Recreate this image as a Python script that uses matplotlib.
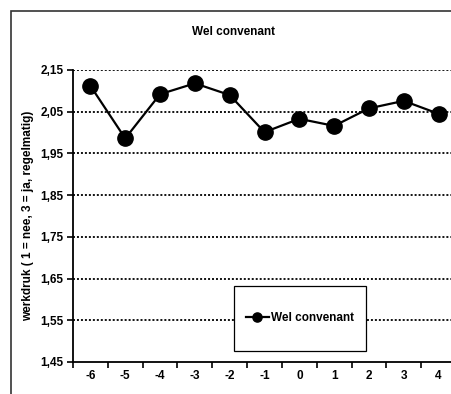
import matplotlib.pyplot as plt
from matplotlib.patches import Rectangle
from matplotlib.ticker import FixedLocator, NullFormatter

plt.rcParams['font.family'] = ['Liberation Sans', 'DejaVu Sans']
plt.rcParams['font.weight'] = 'bold'

jaren = [-6, -5, -4, -3, -2, -1, 0, 1, 2, 3, 4]
werkdruk = [2.112, 1.986, 2.092, 2.118, 2.090, 2.001, 2.033, 2.016, 2.058, 2.076, 2.045]
yticks = [1.45, 1.55, 1.65, 1.75, 1.85, 1.95, 2.05, 2.15]

fig = plt.figure(figsize=(4.51, 3.94), dpi=100)
# outer chart frame (runs off the right and bottom edge)
fig.patches.append(Rectangle((11/451, -0.2), 1.0, (394-11)/394 + 0.2, transform=fig.transFigure,
                             fill=False, edgecolor='#333333', linewidth=1.2))

ax = fig.add_axes([73/451, 32/394, (456-73)/451, (362-70)/394])
ax.plot(jaren, werkdruk, color='black', linewidth=1.6, marker='o', markersize=11,
        label='Wel convenant', clip_on=False, zorder=3)

ax.set_xlim(-6.5, 4.5)
ax.set_ylim(1.45, 2.15)
ax.set_yticks(yticks)
ax.set_yticklabels([('%.2f' % v).replace('.', ',') for v in yticks], fontsize=8.5, fontweight='bold')
for v in yticks[1:]:
    ax.axhline(v, color='black', linestyle=(0, (1.1, 1.1)), linewidth=1.3, zorder=1)

ax.set_xticks(jaren)
ax.set_xticklabels([str(j) for j in jaren], fontsize=8.5, fontweight='bold')
ax.tick_params(axis='x', which='major', length=0, pad=6)
ax.xaxis.set_minor_locator(FixedLocator([j - 0.5 for j in jaren] + [4.5]))
ax.xaxis.set_minor_formatter(NullFormatter())
ax.tick_params(axis='x', which='minor', length=4, width=1.2, direction='out')
ax.tick_params(axis='y', length=4, width=1.2, direction='out', pad=3)

for s in ['top', 'right']:
    ax.spines[s].set_visible(False)
for s in ['left', 'bottom']:
    ax.spines[s].set_linewidth(1.3)

ax.set_ylabel('werkdruk ( 1 = nee, 3 = ja, regelmatig)', fontsize=8.5, fontweight='bold', labelpad=4)
fig.text(233/451, 1 - 32/394, 'Wel convenant', fontsize=8.5, fontweight='bold', ha='center', va='center')

# legend box (white, black edge) with the legend entry centred inside
box = Rectangle(((234-73)/383, (362-351)/292), 132/383, 65/292, transform=ax.transAxes,
                facecolor='white', edgecolor='black', linewidth=0.9, zorder=4)
ax.add_patch(box)
leg = ax.legend(loc='center', bbox_to_anchor=((300-73)/383, (362-318)/292), fontsize=8.5,
                frameon=False, markerscale=0.6, handlelength=1.9, borderpad=0,
                borderaxespad=0, handletextpad=0.2)
leg.set_zorder(5)

fig.savefig('out.png', dpi=100)
